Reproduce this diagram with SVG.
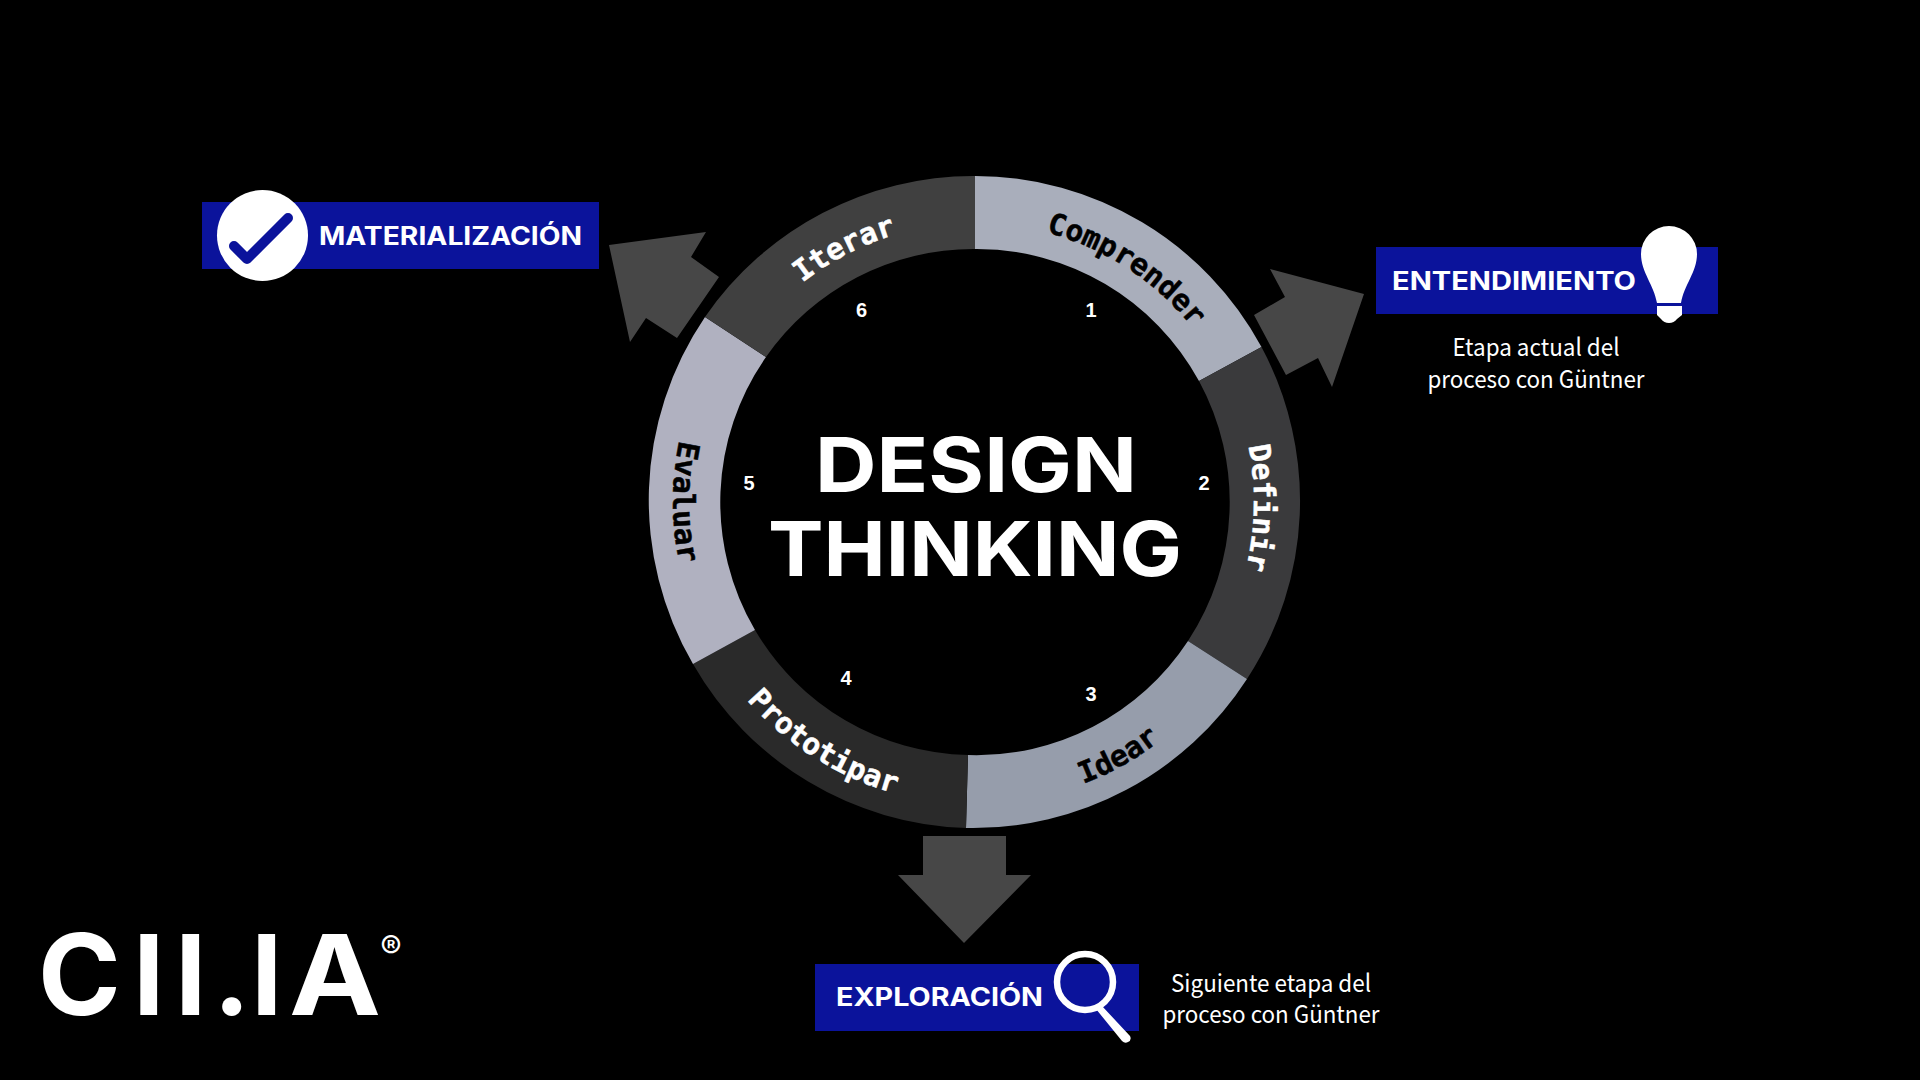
<svg xmlns="http://www.w3.org/2000/svg" width="1920" height="1080" viewBox="0 0 1920 1080">
<style>
.lab{font-family:"DejaVu Sans Mono",monospace;font-weight:700;font-size:29.5px;text-anchor:middle;stroke-width:.5px}
.k{fill:#000;stroke:#000}
.w{fill:#fff;stroke:#fff}
.num{font-family:"Liberation Sans",Arial,sans-serif;font-weight:700;font-size:20px;fill:#fff;text-anchor:middle}
.big{font-family:Inter,"Liberation Sans",sans-serif;font-weight:700;font-size:76px;fill:#fff}
.tag{font-family:Inter,"Liberation Sans",sans-serif;font-weight:700;font-size:25px;fill:#fff}
.sub{font-family:"Noto Sans CJK SC","Noto Sans",sans-serif;font-size:24px;fill:#fff;text-anchor:middle}
.logo{font-family:Inter,"Liberation Sans",sans-serif;font-weight:700;font-size:112px;fill:#fff}
.arr{fill:#474747}
.blue{fill:#0b139b}
</style>
<defs>
<path id="cwb" d="M696 502A279 279 0 0 1 1254 502"/>
<path id="ccw" d="M673 502A302 302 0 0 0 1277 502"/>
</defs>
<rect width="1920" height="1080" fill="#000"/>
<g id="connectors">
<polygon class="arr" points="609,245 706,232 691,257 719,277 677,338 646,318 630,342"/>
<polygon class="arr" points="1364,294 1270,269 1285,297 1254,315 1286,375 1318,358 1332,387"/>
<polygon class="arr" points="923,836 1006,836 1006,875 1031,875 964,943 898,875 923,875"/>
</g>
<g id="seg-comprender">
<path fill="#a9aebb" d="M975 176A326 326 0 0 1 1261.5 347L1199 381A253 253 0 0 0 975 249Z"/>
<g transform="rotate(33 975 502)"><text class="lab k"><textPath href="#cwb" startOffset="50%">Comprender</textPath></text></g>
</g>
<g id="seg-definir">
<path fill="#3a3a3c" d="M1261.5 347A326 326 0 0 1 1247 679L1188 641A253 253 0 0 0 1199 381Z"/>
<g transform="rotate(91.2 975 502)"><text class="lab w"><textPath href="#cwb" startOffset="50%">Definir</textPath></text></g>
</g>
<g id="seg-idear">
<path fill="#969dab" d="M1247 679A326 326 0 0 1 966 828L968 755A253 253 0 0 0 1188 641Z"/>
<g transform="rotate(-29.4 975 502)"><text class="lab k"><textPath href="#ccw" startOffset="50%">Idear</textPath></text></g>
</g>
<g id="seg-prototipar">
<path fill="#2a2a2a" d="M966 828A326 326 0 0 1 693 664L755 630A253 253 0 0 0 968 755Z"/>
<g transform="rotate(32.2 975 502)"><text class="lab w"><textPath href="#ccw" startOffset="50%">Prototipar</textPath></text></g>
</g>
<g id="seg-evaluar">
<path fill="#b0b1c0" d="M693 664A326 326 0 0 1 705 317L766 357A253 253 0 0 0 755 630Z"/>
<g transform="rotate(90 975 502)"><text class="lab k"><textPath href="#ccw" startOffset="50%">Evaluar</textPath></text></g>
</g>
<g id="seg-iterar">
<path fill="#404040" d="M705 317A326 326 0 0 1 975 176L975 249A253 253 0 0 0 766 357Z"/>
<g transform="rotate(-27.3 975 502)"><text class="lab w"><textPath href="#cwb" startOffset="50%">Iterar</textPath></text></g>
</g>
<g id="numbers">
<text class="num" x="1091" y="317">1</text>
<text class="num" x="1204" y="490">2</text>
<text class="num" x="1091" y="701">3</text>
<text class="num" x="846" y="685">4</text>
<text class="num" x="749" y="490">5</text>
<text class="num" x="861.5" y="317">6</text>
</g>
<g id="title">
<text class="big" x="815" y="492" textLength="322" lengthAdjust="spacingAndGlyphs">DESIGN</text>
<text class="big" x="768" y="576" textLength="414" lengthAdjust="spacingAndGlyphs">THINKING</text>
</g>
<g id="materializacion">
<rect class="blue" x="202" y="202" width="397" height="67"/>
<circle cx="262.5" cy="235.5" r="45.5" fill="#fff"/>
<path d="M234 246L247 259L288 218" fill="none" stroke="#0b139b" stroke-width="10" stroke-linecap="round" stroke-linejoin="round"/>
<text class="tag" x="319" y="244.5" textLength="263" lengthAdjust="spacingAndGlyphs">MATERIALIZACIÓN</text>
</g>
<g id="entendimiento">
<rect class="blue" x="1376" y="247" width="342" height="67"/>
<path fill="#fff" d="M1657 303C1654 285 1641 272 1641 254A28 28 0 0 1 1697 254C1697 272 1684 285 1681 303Z"/>
<path fill="#fff" d="M1657 306H1682V315L1677 319Q1674 323 1669 323Q1664 323 1661 319L1657 315Z"/>
<text class="tag" x="1392" y="290" textLength="244" lengthAdjust="spacingAndGlyphs">ENTENDIMIENTO</text>
<text class="sub" x="1536" y="356" textLength="167" lengthAdjust="spacingAndGlyphs">Etapa actual del</text>
<text class="sub" x="1536" y="388" textLength="217" lengthAdjust="spacingAndGlyphs">proceso con Güntner</text>
</g>
<g id="exploracion">
<rect class="blue" x="815" y="964" width="324" height="67"/>
<circle cx="1085" cy="982" r="28" fill="none" stroke="#fff" stroke-width="6.5"/>
<path fill="#fff" d="M1096 1009L1102 1006L1130 1036Q1132 1040 1128 1042Q1125 1044 1122 1041Z"/>
<text class="tag" x="836" y="1006" textLength="207" lengthAdjust="spacingAndGlyphs">EXPLORACIÓN</text>
<text class="sub" x="1271" y="992" textLength="200" lengthAdjust="spacingAndGlyphs">Siguiente etapa del</text>
<text class="sub" x="1271" y="1023" textLength="217" lengthAdjust="spacingAndGlyphs">proceso con Güntner</text>
</g>
<g id="logo">
<text class="logo" y="1015" x="38 133 175 213 251 289">CII.I<tspan textLength="92" lengthAdjust="spacingAndGlyphs">A</tspan></text>
<text x="391" y="959" font-family="Inter,'Liberation Sans',sans-serif" font-size="32" fill="#fff" text-anchor="middle">®</text>
</g>
</svg>
